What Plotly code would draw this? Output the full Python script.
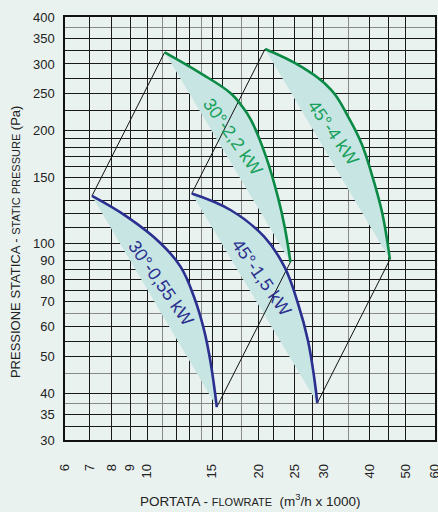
import math
import plotly.graph_objects as go

# ---- data ----
c055_x = [7.09, 8.83, 10.87, 12.32, 13.39, 14.26, 14.86, 15.43]
c055_y = [133.7, 117.6, 100.1, 86.6, 72.0, 58.7, 47.95, 36.7]

c15_x = [13.20, 16.85, 20.75, 23.52, 25.58, 27.22, 28.37, 28.85]
c15_y = [135.7, 122.5, 104.0, 86.6, 69.2, 55.2, 43.2, 37.6]

c22_x = [11.15, 13.96, 16.85, 18.05, 19.10, 20.97, 22.57, 23.55, 24.41]
c22_y = [322.1, 283.3, 250.5, 231.7, 212.8, 169.9, 132.9, 110.6, 89.2]

c4_x = [20.84, 26.1, 31.5, 34.98, 38.0, 40.45, 43.07, 44.43, 45.35]
c4_y = [328.7, 295.0, 255.8, 217.1, 184.4, 153.4, 122.5, 104.0, 90.6]

curve_names = ["30°-0,55 kW", "45°-1,5 kW", "30°-2,2 kW", "45°-4 kW"]
label_x = [10.87, 20.33, 17.06, 31.9]
label_y = [78.3, 81.3, 191.8, 196.5]

x_label_vals = [6, 7, 8, 9, 10, 15, 20, 25, 30, 40, 50, 60]
x_black_grid = [7, 8, 9, 10, 12, 13, 15, 16, 20, 22, 25, 28, 30, 40, 45, 50]
x_gray_grid = [11, 14, 18, 35]

y_label_vals = [30, 35, 40, 50, 60, 70, 80, 90, 100, 150, 200, 250, 300, 350, 400]
y_black_grid = [32.5, 35, 40, 50, 55, 60, 70, 75, 80, 85, 90, 95, 100, 110, 120,
                130, 140, 150, 160, 170, 180, 190, 200, 225, 250, 275, 300, 325, 350]
y_gray_grid = [37.5, 45, 65, 375]

x_title = "PORTATA - <span style='font-size:11px'>FLOWRATE</span>  (m<sup>3</sup>/h x 1000)"
y_title = "PRESSIONE STATICA - <span style='font-size:11px'>STATIC PRESSURE</span> (Pa)"

NAVY = "#2b2f8f"
GREEN = "#0b8a45"
GREEN_TXT = "#17a05a"
FILL = "#c6e5e3"
BG = "#eaf2f0"
FONT = "Liberation Sans, Arial, sans-serif"

fig = go.Figure()

curves = [(c055_x, c055_y, NAVY), (c15_x, c15_y, NAVY), (c22_x, c22_y, GREEN), (c4_x, c4_y, GREEN)]

for cx, cy, col in curves:
    # straight chord (lower boundary of the shaded crescent)
    fig.add_trace(go.Scatter(x=[cx[0], cx[-1]], y=[cy[0], cy[-1]], mode="lines",
                             line=dict(width=0, color=FILL), hoverinfo="skip", showlegend=False))
    fig.add_trace(go.Scatter(x=cx, y=cy, mode="lines", fill="tonext", fillcolor=FILL,
                             line=dict(width=0, shape="spline", smoothing=1.15, color=FILL),
                             hoverinfo="skip", showlegend=False))

# thin connecting lines forming the parallelograms
pairs = [(0, 2, 0), (1, 3, 0), (0, 2, -1), (1, 3, -1)]
for a, b, i in pairs:
    fig.add_trace(go.Scatter(x=[curves[a][0][i], curves[b][0][i]],
                             y=[curves[a][1][i], curves[b][1][i]],
                             mode="lines", line=dict(width=1, color="#111"),
                             hoverinfo="skip", showlegend=False))

for cx, cy, col in curves:
    fig.add_trace(go.Scatter(x=cx, y=cy, mode="lines",
                             line=dict(width=2.6, shape="spline", smoothing=1.15, color=col),
                             hoverinfo="skip", showlegend=False))

label_cols = [NAVY, NAVY, GREEN_TXT, GREEN_TXT]
for name, lx, ly, lc in zip(curve_names, label_x, label_y, label_cols):
    fig.add_annotation(x=math.log10(lx), y=math.log10(ly), xref="x", yref="y", text=name,
                       showarrow=False, textangle=55,
                       font=dict(size=18, color=lc, family=FONT))

# axis titles
fig.add_annotation(x=0.5, y=-0.143, xref="paper", yref="paper", text=x_title, showarrow=False,
                   xanchor="center", yanchor="middle", font=dict(size=13.5, color="#222", family=FONT))
fig.add_annotation(x=-0.135, y=0.468, xref="paper", yref="paper", text=y_title, showarrow=False,
                   textangle=-90, xanchor="center", yanchor="middle",
                   font=dict(size=13, color="#222", family=FONT))

x_ticks = sorted(set(x_label_vals) | set(x_black_grid))
x_text = [str(v) if v in x_label_vals else "" for v in x_ticks]
y_ticks = sorted(set(y_label_vals) | set(y_black_grid))
y_text = [str(v) if v in y_label_vals else "" for v in y_ticks]

fig.update_layout(
    width=438, height=512,
    margin=dict(l=65, r=3, t=17, b=72),
    paper_bgcolor=BG, plot_bgcolor=BG,
    font=dict(family=FONT, color="#222"),
    showlegend=False,
    xaxis=dict(type="log", range=[math.log10(6) - 0.0004, math.log10(60) + 0.0004], automargin=False,
               tickmode="array", tickvals=x_ticks, ticktext=x_text, tickangle=-90,
               tickfont=dict(size=13, color="#222"), ticks="", ticklabelstandoff=17,
               ticklabeloverflow="allow",
               showgrid=True, gridcolor="#1a1a1a", gridwidth=1.2,
               minor=dict(tickmode="array", tickvals=x_gray_grid, showgrid=True,
                          gridcolor="#8a8a8a", gridwidth=1.4, ticks=""),
               showline=True, linecolor="#111", linewidth=1.5, mirror=True, zeroline=False),
    yaxis=dict(type="log", range=[math.log10(30), math.log10(400)], automargin=False,
               tickmode="array", tickvals=y_ticks, ticktext=y_text,
               tickfont=dict(size=13, color="#222"), ticks="", ticklabelstandoff=6,
               ticklabeloverflow="allow",
               showgrid=True, gridcolor="#1a1a1a", gridwidth=1.2,
               minor=dict(tickmode="array", tickvals=y_gray_grid, showgrid=True,
                          gridcolor="#8a8a8a", gridwidth=1.4, ticks=""),
               showline=True, linecolor="#111", linewidth=1.5, mirror=True, zeroline=False),
)

fig.write_html("out.html", config={"displayModeBar": False},
               post_script="document.body.style.margin='0px';document.body.style.overflow='hidden';")
